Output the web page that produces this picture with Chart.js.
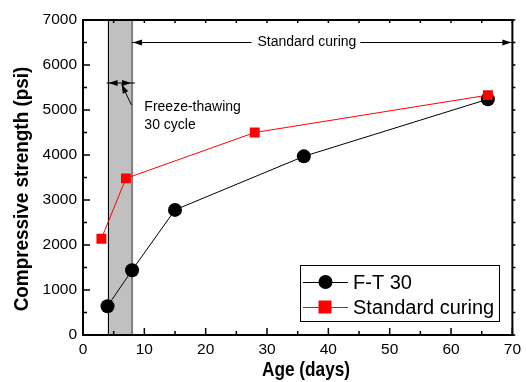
<!DOCTYPE html>
<html>
<head>
<meta charset="utf-8">
<script src="https://cdn.jsdelivr.net/npm/chart.js@4.4.0/dist/chart.umd.min.js"></script>
<style>
  html, body { margin: 0; padding: 0; background: #fff; }
  #wrap { width: 526px; height: 382px; position: relative; }
</style>
</head>
<body>
<div id="wrap"><canvas id="chart"></canvas></div>
<script>
// F-T 30 series
const ftAge = [4, 8, 15, 36, 66];
const ftStrength = [640, 1440, 2780, 3970, 5240];
// standard curing series
const stdAge = [3, 7, 28, 66];
const stdStrength = [2140, 3480, 4500, 5330];

const seriesNames = ['F-T 30', 'Standard curing'];
const freezePeriod = [4, 8];
const xTitle = 'Age (days)';
const yTitle = 'Compressive strength (psi)';

const xMin = 0, xMax = 70, xStep = 10;
const yMin = 0, yMax = 7000, yStep = 1000;

const FONT = '"Liberation Sans", Arial, sans-serif';

function toPoints(xs, ys) {
    return xs.map((x, i) => ({ x: x, y: ys[i] }));
}

function arrowHead(ctx, x, y, dir) {
    // dir: 1 points right, -1 points left
    ctx.beginPath();
    ctx.moveTo(x, y);
    ctx.lineTo(x - dir * 9, y - 3);
    ctx.lineTo(x - dir * 9, y + 3);
    ctx.closePath();
    ctx.fill();
}

// bold axis titles, squeezed a bit like a narrow face
function narrowText(ctx, text, cx, cy, size, squeeze, rotate) {
    ctx.save();
    ctx.translate(cx, cy);
    if (rotate) ctx.rotate(-Math.PI / 2);
    ctx.scale(squeeze, 1);
    ctx.font = 'bold ' + size + 'px ' + FONT;
    ctx.textAlign = 'center';
    ctx.textBaseline = 'middle';
    ctx.fillStyle = '#000';
    ctx.fillText(text, 0, 0);
    ctx.restore();
}

const decorations = {
    id: 'decorations',
    beforeDatasetsDraw(chart) {
        const { ctx, chartArea, scales: { x, y } } = chart;
        const x0 = x.getPixelForValue(freezePeriod[0]);
        const x1 = x.getPixelForValue(freezePeriod[1]);
        ctx.save();
        ctx.fillStyle = '#c0c0c0';
        ctx.fillRect(x0, chartArea.top, x1 - x0, chartArea.bottom - chartArea.top);
        ctx.strokeStyle = '#000';
        ctx.lineWidth = 1;
        ctx.beginPath();
        ctx.moveTo(Math.round(x0) + 0.5, chartArea.top);
        ctx.lineTo(Math.round(x0) + 0.5, chartArea.bottom);
        ctx.stroke();
        ctx.strokeStyle = '#808080';
        ctx.lineWidth = 2;
        ctx.beginPath();
        ctx.moveTo(x1, chartArea.top);
        ctx.lineTo(x1, chartArea.bottom);
        ctx.stroke();
        ctx.restore();
    },
    afterDatasetsDraw(chart) {
        const { ctx, chartArea: a, scales: { x, y } } = chart;
        ctx.save();

        // frame
        ctx.strokeStyle = '#000';
        ctx.lineWidth = 2;
        ctx.strokeRect(a.left, a.top, a.right - a.left, a.bottom - a.top);

        // inward ticks
        ctx.lineWidth = 1.5;
        ctx.beginPath();
        for (let v = xMin; v <= xMax; v += xStep / 2) {
            const px = x.getPixelForValue(v);
            const len = v % xStep === 0 ? 7 : 4;
            ctx.moveTo(px, a.bottom);
            ctx.lineTo(px, a.bottom - len);
            ctx.moveTo(px, a.top);
            ctx.lineTo(px, a.top + 3);
        }
        for (let v = yMin; v <= yMax; v += yStep / 2) {
            const py = y.getPixelForValue(v);
            const len = v % yStep === 0 ? 7 : 4;
            ctx.moveTo(a.left, py);
            ctx.lineTo(a.left + len, py);
            ctx.moveTo(a.right, py);
            ctx.lineTo(a.right + 3, py);
        }
        ctx.stroke();

        // standard curing span arrow
        const xs = x.getPixelForValue(freezePeriod[1]);
        const ys = y.getPixelForValue(6500);
        ctx.fillStyle = '#000';
        ctx.lineWidth = 1;
        ctx.font = '14px ' + FONT;
        ctx.textAlign = 'center';
        ctx.textBaseline = 'middle';
        const tx = x.getPixelForValue(36.5);
        const tw = ctx.measureText('Standard curing').width;
        ctx.beginPath();
        ctx.moveTo(xs, ys);
        ctx.lineTo(tx - tw / 2 - 6, ys);
        ctx.moveTo(tx + tw / 2 + 4, ys);
        ctx.lineTo(a.right, ys);
        ctx.stroke();
        arrowHead(ctx, xs + 1, ys, -1);
        arrowHead(ctx, a.right - 1, ys, 1);
        ctx.fillText('Standard curing', tx, ys);

        // freeze-thawing span arrow
        const fx0 = x.getPixelForValue(freezePeriod[0]);
        const fy = y.getPixelForValue(5600);
        ctx.beginPath();
        ctx.moveTo(fx0 - 1, fy);
        ctx.lineTo(xs + 3, fy);
        ctx.stroke();
        arrowHead(ctx, fx0 + 1, fy, -1);
        arrowHead(ctx, xs - 1, fy, 1);

        // leader to label
        const lx0 = x.getPixelForValue(6.3), ly0 = y.getPixelForValue(5570);
        const lx1 = x.getPixelForValue(7.9), ly1 = y.getPixelForValue(5110);
        ctx.beginPath();
        ctx.moveTo(lx1, ly1);
        ctx.lineTo(lx0, ly0);
        ctx.stroke();
        const ang = Math.atan2(ly0 - ly1, lx0 - lx1);
        ctx.beginPath();
        ctx.moveTo(lx0, ly0);
        ctx.lineTo(lx0 - 9 * Math.cos(ang) + 3 * Math.sin(ang), ly0 - 9 * Math.sin(ang) - 3 * Math.cos(ang));
        ctx.lineTo(lx0 - 9 * Math.cos(ang) - 3 * Math.sin(ang), ly0 - 9 * Math.sin(ang) + 3 * Math.cos(ang));
        ctx.closePath();
        ctx.fill();

        ctx.textAlign = 'left';
        ctx.fillText('Freeze-thawing', x.getPixelForValue(10), y.getPixelForValue(5060));
        ctx.fillText('30 cycle', x.getPixelForValue(10), y.getPixelForValue(4660));

        // legend box
        const lb = { left: 300, top: 265, right: 499, bottom: 321 };
        ctx.fillStyle = '#fff';
        ctx.fillRect(lb.left, lb.top, lb.right - lb.left, lb.bottom - lb.top);
        ctx.strokeStyle = '#000';
        ctx.lineWidth = 1;
        ctx.strokeRect(lb.left + 0.5, lb.top + 0.5, lb.right - lb.left, lb.bottom - lb.top);
        chart.data.datasets.forEach((ds, i) => {
            const rowY = 282 + i * 25;
            ctx.strokeStyle = ds.borderColor;
            ctx.lineWidth = 1;
            ctx.beginPath();
            ctx.moveTo(303, rowY + 0.5);
            ctx.lineTo(348, rowY + 0.5);
            ctx.stroke();
            ctx.fillStyle = ds.backgroundColor;
            if (ds.pointStyle === 'rect') {
                ctx.fillRect(325 - 6.5, rowY - 6.5, 13, 13);
            } else {
                ctx.beginPath();
                ctx.arc(325.5, rowY, 7, 0, Math.PI * 2);
                ctx.fill();
            }
            ctx.fillStyle = '#000';
            ctx.font = '20px ' + FONT;
            ctx.textBaseline = 'middle';
            ctx.fillText(ds.label, 353, rowY + 1);
        });

        ctx.restore();

        // axis titles
        narrowText(ctx, xTitle, 306, 370, 21, 0.82, false);
        narrowText(ctx, yTitle, 22, 189, 21, 0.9, true);
    }
};

new Chart(document.getElementById('chart'), {
    type: 'scatter',
    data: {
        datasets: [
            {
                label: seriesNames[0],
                data: toPoints(ftAge, ftStrength),
                showLine: true,
                borderColor: '#000',
                backgroundColor: '#000',
                borderWidth: 1,
                pointStyle: 'circle',
                pointRadius: 7,
                pointBorderWidth: 0,
                order: 2
            },
            {
                label: seriesNames[1],
                data: toPoints(stdAge, stdStrength),
                showLine: true,
                borderColor: '#ff0000',
                backgroundColor: '#ff0000',
                borderWidth: 1,
                pointStyle: 'rect',
                pointRadius: 7,
                pointBorderWidth: 0,
                order: 1
            }
        ]
    },
    options: {
        responsive: true,
        maintainAspectRatio: false,
        animation: false,
        events: [],
        layout: { padding: { top: 20, right: 11, left: 0, bottom: 0 } },
        plugins: {
            legend: { display: false },
            tooltip: { enabled: false }
        },
        scales: {
            x: {
                type: 'linear',
                min: xMin,
                max: xMax,
                grid: { display: false, drawTicks: false },
                border: { display: false },
                ticks: {
                    stepSize: xStep,
                    padding: 5,
                    color: '#000',
                    maxRotation: 0,
                    font: { family: FONT, size: 15.5 },
                    callback: v => String(v)
                },
                afterFit(scale) { scale.height = 47; }
            },
            y: {
                type: 'linear',
                min: yMin,
                max: yMax,
                grid: { display: false, drawTicks: false },
                border: { display: false },
                ticks: {
                    stepSize: yStep,
                    padding: 6,
                    color: '#000',
                    font: { family: FONT, size: 15.5 },
                    callback: v => String(v)
                },
                afterFit(scale) { scale.width = 83; }
            }
        }
    },
    plugins: [decorations]
});
</script>
</body>
</html>
